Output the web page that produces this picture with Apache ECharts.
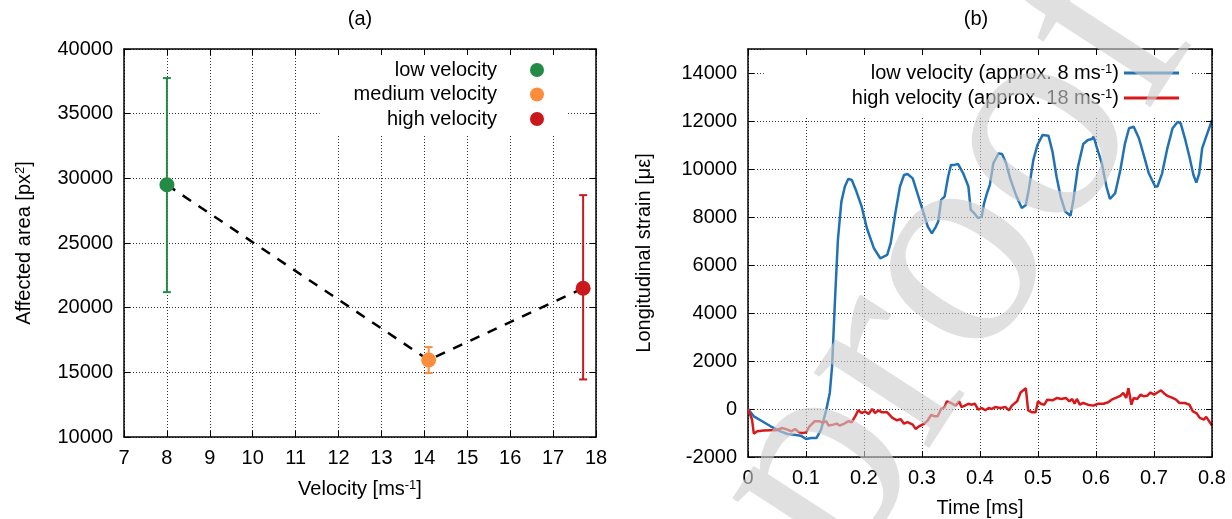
<!DOCTYPE html>
<html>
<head>
<meta charset="utf-8">
<title>Affected area and longitudinal strain</title>
<script src="https://cdn.jsdelivr.net/npm/echarts@6/dist/echarts.min.js"></script>
<style>
  html, body { margin: 0; padding: 0; background: #fff; }
  #chart { width: 1232px; height: 519px; }
</style>
</head>
<body>
<div id="chart"></div>
<script>
// ---- (a) affected area vs impact velocity ----
const groupNames = ['low velocity', 'medium velocity', 'high velocity'];
const velocities = [8, 14.1, 17.7];
const areaMean = [29500, 15950, 21500];
const areaLow = [21200, 14950, 14450];
const areaHigh = [37750, 16950, 28700];

// ---- (b) longitudinal strain history ----
const lowTime = [0, 0.01, 0.0215, 0.039, 0.056, 0.068, 0.08, 0.091, 0.1, 0.109, 0.118, 0.126, 0.135, 0.141, 0.145, 0.15, 0.155, 0.161, 0.167, 0.173, 0.179, 0.187, 0.196, 0.205, 0.217, 0.228, 0.24, 0.246, 0.254, 0.262, 0.269, 0.275, 0.284, 0.292, 0.301, 0.31, 0.317, 0.324, 0.328, 0.333, 0.339, 0.345, 0.35, 0.356, 0.362, 0.371, 0.38, 0.384, 0.39, 0.397, 0.403, 0.407, 0.412, 0.417, 0.423, 0.432, 0.438, 0.445, 0.452, 0.462, 0.472, 0.479, 0.484, 0.492, 0.499, 0.508, 0.518, 0.525, 0.532, 0.539, 0.547, 0.556, 0.561, 0.569, 0.578, 0.586, 0.593, 0.596, 0.601, 0.61, 0.618, 0.624, 0.633, 0.642, 0.65, 0.657, 0.665, 0.674, 0.683, 0.691, 0.702, 0.706, 0.714, 0.723, 0.732, 0.741, 0.746, 0.754, 0.761, 0.768, 0.773, 0.778, 0.783, 0.79, 0.8];
const lowStrain = [0, -305, -470, -720, -930, -1040, -1070, -1110, -1250, -1210, -1210, -860, -30, 670, 1780, 4550, 7050, 8640, 9270, 9590, 9540, 9060, 8430, 7530, 6700, 6280, 6420, 6910, 8160, 9270, 9750, 9790, 9610, 8990, 8300, 7600, 7320, 7600, 7810, 8710, 8850, 9680, 10170, 10170, 10210, 9820, 9270, 8300, 8160, 7950, 8020, 8570, 8990, 9340, 10240, 10650, 10630, 10240, 9610, 8920, 8370, 8500, 9130, 10380, 11000, 11420, 11390, 10720, 9680, 8850, 8230, 8050, 8710, 10100, 11040, 11210, 11250, 11350, 10930, 10240, 9270, 8750, 8990, 9960, 11070, 11700, 11760, 11280, 10520, 9820, 9270, 9270, 9820, 10860, 11700, 11970, 11900, 11210, 10520, 9750, 9430, 9820, 10860, 11350, 12040];
const highTime = [0, 0.007, 0.01, 0.016, 0.027, 0.039, 0.048, 0.059, 0.068, 0.075, 0.081, 0.088, 0.094, 0.1, 0.106, 0.115, 0.123, 0.129, 0.135, 0.139, 0.147, 0.153, 0.158, 0.166, 0.173, 0.179, 0.185, 0.19, 0.196, 0.202, 0.208, 0.214, 0.219, 0.225, 0.231, 0.24, 0.249, 0.257, 0.263, 0.269, 0.275, 0.284, 0.289, 0.295, 0.304, 0.31, 0.316, 0.321, 0.327, 0.333, 0.339, 0.343, 0.35, 0.358, 0.364, 0.368, 0.374, 0.38, 0.385, 0.391, 0.397, 0.403, 0.409, 0.415, 0.42, 0.426, 0.435, 0.444, 0.45, 0.455, 0.464, 0.47, 0.479, 0.483, 0.49, 0.496, 0.5, 0.505, 0.511, 0.516, 0.525, 0.533, 0.54, 0.548, 0.554, 0.559, 0.563, 0.567, 0.572, 0.578, 0.586, 0.595, 0.604, 0.613, 0.621, 0.627, 0.634, 0.642, 0.647, 0.652, 0.656, 0.661, 0.665, 0.671, 0.677, 0.682, 0.688, 0.694, 0.7, 0.706, 0.712, 0.718, 0.723, 0.732, 0.738, 0.744, 0.753, 0.761, 0.767, 0.773, 0.779, 0.786, 0.79, 0.8];
const highStrain = [0, -440, -1030, -930, -900, -890, -890, -790, -860, -930, -830, -970, -1000, -970, -720, -510, -510, -580, -510, -690, -650, -610, -690, -610, -510, -550, -300, -50, -170, -100, -210, 0, -170, -55, -140, -140, -370, -470, -420, -610, -550, -650, -830, -720, -610, -470, -240, -300, -300, 0, 80, 320, 250, 140, 320, 80, 140, 220, 180, 220, -30, 40, -55, 40, 0, 80, 40, 80, -55, 140, 320, 690, 870, -55, -140, -140, 320, 220, 180, 390, 360, 460, 420, 460, 320, 420, 220, 420, 180, 250, 180, 140, 220, 220, 280, 390, 460, 550, 670, 460, 870, 180, 460, 420, 600, 530, 550, 690, 600, 690, 780, 640, 550, 460, 390, 250, 250, 180, -100, -170, -370, -440, -330, -690];
const strainNames = ['low velocity (approx. 8 ms-1)', 'high velocity (approx. 18 ms-1)'];
const strainLegend = ['low velocity (approx. 8 ms{sup|-1})', 'high velocity (approx. 18 ms{sup|-1})'];

// ---- styling ----
const FONT = 'Liberation Sans';
const FS = 20;
const groupColors = ['#238b45', '#fd8d3c', '#cb181d'];
const strainColors = ['#2171b5', '#d7191c'];

// superscript token: a tall box with the glyphs pinned to its top lifts them above the cap line
const supRich = { sup: { fontSize: 13, lineHeight: 13, padding: [0, 0, 16, 0], verticalAlign: 'top', fontFamily: FONT, color: '#000' } };
const gridLineStyle = { color: '#333', width: 1, type: [1, 2] };
const frameLine = { show: true, onZero: false, lineStyle: { color: '#000', width: 1.5 } };
const innerTick = { show: true, inside: true, length: 6, lineStyle: { color: '#000', width: 1 } };
const tickText = { color: '#000', fontSize: FS, fontFamily: FONT, margin: 11, formatter: v => String(v) };

function mainAxis(extra) {
  return Object.assign({
    type: 'value',
    axisLine: frameLine,
    axisTick: innerTick,
    axisLabel: tickText,
    splitLine: { show: true, lineStyle: gridLineStyle },
    nameTextStyle: { color: '#000', fontSize: FS, fontFamily: FONT, rich: supRich },
    nameLocation: 'middle'
  }, extra);
}
function mirrorAxis(extra) {
  return Object.assign({
    type: 'value',
    z: 6,
    axisLine: frameLine,
    axisTick: innerTick,
    axisLabel: { show: false },
    splitLine: { show: false }
  }, extra);
}

const xLeft = { min: 7, max: 18, interval: 1, gridIndex: 0 };
const yLeft = { min: 10000, max: 40000, interval: 5000, gridIndex: 0 };
const xRight = { min: 0, max: 0.8, interval: 0.1, gridIndex: 1 };
const yRight = { min: -2000, max: 15000, interval: 2000, gridIndex: 1 };

const errorBars = velocities.map((v, i) => [v, areaLow[i], areaHigh[i], i]);

const option = {
  animation: false,
  backgroundColor: '#fff',
  grid: [
    { left: 124, top: 49, width: 472, height: 388, outerBoundsMode: 'none', containLabel: false },
    { left: 748, top: 49, width: 464, height: 408, outerBoundsMode: 'none', containLabel: false }
  ],
  xAxis: [
    mainAxis(Object.assign({ position: 'bottom', name: 'Velocity [ms{sup|-1}]', nameGap: 42 }, xLeft)),
    mirrorAxis(Object.assign({ position: 'top' }, xLeft)),
    mainAxis(Object.assign({ position: 'bottom', name: 'Time [ms]', nameGap: 41 }, xRight)),
    mirrorAxis(Object.assign({ position: 'top' }, xRight))
  ],
  yAxis: [
    mainAxis(Object.assign({ position: 'left', name: 'Affected area [px{sup|2}]', nameGap: 90 }, yLeft)),
    mirrorAxis(Object.assign({ position: 'right' }, yLeft)),
    mainAxis(Object.assign({ position: 'left', name: 'Longitudinal strain [\u03bc\u03b5]', nameGap: 94,
      axisLabel: Object.assign({}, tickText, { showMaxLabel: false }) }, yRight)),
    mirrorAxis(Object.assign({ position: 'right' }, yRight))
  ],
  legend: [
    {
      data: groupNames,
      orient: 'vertical',
      align: 'right',
      right: 664,
      top: 50,
      padding: [9, 24, 4, 34],
      itemGap: 2.5,
      itemWidth: 70,
      itemHeight: 14,
      icon: 'circle',
      backgroundColor: '#fff',
      textStyle: { color: '#000', fontSize: FS, fontFamily: FONT, lineHeight: 22 },
      selectedMode: false
    },
    {
      data: strainNames,
      orient: 'vertical',
      align: 'right',
      right: 41,
      top: 49,
      padding: [14, 12, 1, 88],
      itemGap: -4,
      itemWidth: 55,
      itemHeight: 3,
      icon: 'rect',
      backgroundColor: '#fff',
      formatter: name => strainLegend[strainNames.indexOf(name)],
      textStyle: { color: '#000', fontSize: FS, fontFamily: FONT, rich: supRich },
      selectedMode: false
    }
  ],
  graphic: [
    { type: 'text', x: 360, y: 19, style: { text: '(a)', font: FS + 'px "' + FONT + '"', fill: '#000', align: 'center', verticalAlign: 'middle' } },
    { type: 'text', x: 976, y: 19, style: { text: '(b)', font: FS + 'px "' + FONT + '"', fill: '#000', align: 'center', verticalAlign: 'middle' } },
    {
      type: 'text', x: 1132, y: -9, rotation: 57 * Math.PI / 180, z: 100, silent: true,
      style: { text: 'Journal Pre-proof', font: '300px "Liberation Serif"', fill: 'rgba(205,205,205,0.62)', align: 'right', verticalAlign: 'middle' }
    }
  ],
  series: [
    {
      name: 'trend',
      type: 'line',
      xAxisIndex: 0, yAxisIndex: 0,
      data: velocities.map((v, i) => [v, areaMean[i]]),
      symbol: 'none',
      lineStyle: { color: '#000', width: 2.5, type: [10, 9] },
      z: 2
    },
    {
      name: 'error',
      type: 'custom',
      xAxisIndex: 0, yAxisIndex: 0,
      data: errorBars,
      z: 3,
      renderItem: function (params, api) {
        const x = api.value(0);
        const top = api.coord([x, api.value(2)]);
        const bot = api.coord([x, api.value(1)]);
        const color = groupColors[api.value(3)];
        const cap = 4;
        const st = { stroke: color, lineWidth: 2 };
        return {
          type: 'group',
          children: [
            { type: 'line', shape: { x1: top[0], y1: top[1], x2: bot[0], y2: bot[1] }, style: st },
            { type: 'line', shape: { x1: top[0] - cap, y1: top[1], x2: top[0] + cap, y2: top[1] }, style: st },
            { type: 'line', shape: { x1: bot[0] - cap, y1: bot[1], x2: bot[0] + cap, y2: bot[1] }, style: st }
          ]
        };
      }
    },
    ...groupNames.map((name, i) => ({
      name: name,
      type: 'scatter',
      xAxisIndex: 0, yAxisIndex: 0,
      data: [[velocities[i], areaMean[i]]],
      symbol: 'circle',
      symbolSize: 15,
      itemStyle: { color: groupColors[i], opacity: 1 },
      z: 4
    })),
    {
      name: strainNames[0],
      type: 'line',
      xAxisIndex: 2, yAxisIndex: 2,
      data: lowTime.map((t, i) => [t, lowStrain[i]]),
      symbol: 'none',
      itemStyle: { color: strainColors[0] },
      lineStyle: { color: strainColors[0], width: 2.5 },
      z: 3
    },
    {
      name: strainNames[1],
      type: 'line',
      xAxisIndex: 2, yAxisIndex: 2,
      data: highTime.map((t, i) => [t, highStrain[i]]),
      symbol: 'none',
      itemStyle: { color: strainColors[1] },
      lineStyle: { color: strainColors[1], width: 2.5 },
      z: 3
    }
  ]
};

const chart = echarts.init(document.getElementById('chart'), null, { renderer: 'canvas' });
chart.setOption(option);
</script>
</body>
</html>
